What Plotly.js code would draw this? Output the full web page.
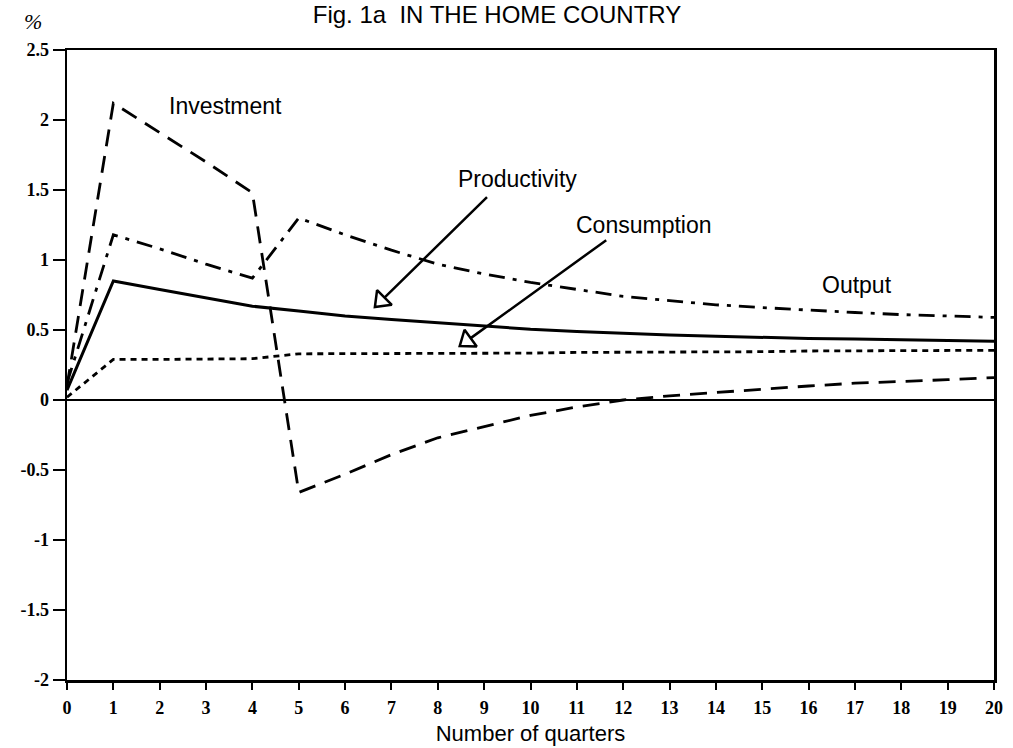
<!DOCTYPE html>
<html>
<head>
<meta charset="utf-8">
<script src="https://cdn.plot.ly/plotly-3.0.1.min.js"></script>
<style>html,body{margin:0;padding:0;background:#fff;}#chart{width:1013px;height:748px;}</style>
</head>
<body>
<div id="chart"></div>
<script>
// ---- data ----
var quarters = [0,1,2,3,4,5,6,7,8,9,10,11,12,13,14,15,16,17,18,19,20];
var investment = [0.10,2.12,1.91,1.70,1.48,-0.66,-0.53,-0.39,-0.27,-0.19,-0.11,-0.05,0.00,0.03,0.055,0.08,0.10,0.12,0.13,0.145,0.16];
var output = [0.12,1.18,1.08,0.97,0.87,1.30,1.18,1.07,0.97,0.90,0.84,0.79,0.74,0.71,0.68,0.66,0.64,0.625,0.61,0.60,0.59];
var productivity = [0.07,0.85,0.79,0.73,0.67,0.635,0.60,0.575,0.55,0.525,0.505,0.49,0.475,0.465,0.455,0.445,0.44,0.435,0.43,0.425,0.42];
var consumption = [0.02,0.29,0.29,0.29,0.295,0.33,0.33,0.33,0.335,0.335,0.335,0.34,0.34,0.34,0.345,0.345,0.35,0.35,0.35,0.355,0.355];
var xTickVals = quarters;
var xTickText = ["0","1","2","3","4","5","6","7","8","9","10","11","12","13","14","15","16","17","18","19","20"];
var yTickVals = [-2,-1.5,-1,-0.5,0,0.5,1,1.5,2,2.5];
var yTickText = ["-2","-1.5","-1","-0.5","0","0.5","1","1.5","2","2.5"];

// arrow heads (hollow triangles) for the label arrows
var arrowHeadX = [6.78, 8.63];
var arrowHeadY = [0.71, 0.423];
var arrowHeadAngle = [225, 234];

var black = '#000';
function line(y, name, dash, w) {
  return {x: quarters, y: y, name: name, type: 'scatter', mode: 'lines',
    line: {color: black, width: w, dash: dash}, showlegend: false, hoverinfo: 'x+y'};
}
var traces = [
  line(investment, 'Investment', '17px,10px', 2.8),
  line(output, 'Output', '16px,8px,4px,8px', 2.8),
  line(productivity, 'Productivity', 'solid', 3),
  line(consumption, 'Consumption', '6px,5px', 2.8),
  {x: arrowHeadX, y: arrowHeadY, type: 'scatter', mode: 'markers', showlegend: false, hoverinfo: 'skip',
   cliponaxis: false,
   marker: {symbol: 'triangle-up-open', size: 18, angle: arrowHeadAngle, color: black, line: {color: black, width: 2.5}}}
];

var labelFont = {family: 'Liberation Sans, Arial, sans-serif', size: 23, color: black};
var tickFont = {family: 'Liberation Serif, Times New Roman, serif', size: 18, color: black, weight: 'bold'};

var layout = {
  width: 1013, height: 748,
  margin: {l: 67, r: 19, t: 50, b: 68},
  paper_bgcolor: '#fff', plot_bgcolor: '#fff',
  title: {text: 'Fig. 1a\u00A0\u00A0IN THE HOME COUNTRY', font: {family: 'Liberation Sans, Arial, sans-serif', size: 24, color: black},
          x: 497/1013, xanchor: 'center', xref: 'container', y: 1 - 15/748, yanchor: 'middle', yref: 'container'},
  xaxis: {range: [0, 20], tickmode: 'array', tickvals: xTickVals, ticktext: xTickText,
          ticks: 'outside', ticklen: 7, tickwidth: 2, tickcolor: black, ticklabelstandoff: 3,
          showline: true, linecolor: black, linewidth: 2.5, mirror: true,
          showgrid: false, zeroline: false, tickfont: tickFont,
          title: {text: 'Number of quarters', font: {family: 'Liberation Sans, Arial, sans-serif', size: 22, color: black}, standoff: 9},
          automargin: false},
  yaxis: {range: [-2, 2.5], tickmode: 'array', tickvals: yTickVals, ticktext: yTickText,
          ticks: 'outside', ticklen: 12, tickwidth: 2, tickcolor: black,
          showline: true, linecolor: black, linewidth: 2.5, mirror: true,
          showgrid: false, zeroline: true, zerolinecolor: black, zerolinewidth: 2.5,
          tickfont: tickFont, automargin: false},
  annotations: [
    {text: '%', xref: 'paper', yref: 'paper', x: (33-67)/927, y: (680-22)/630, xanchor: 'center', yanchor: 'middle', showarrow: false,
     font: {family: 'Liberation Serif, serif', size: 22, color: black, style: 'italic'}},
    {text: 'Investment', x: 3.41, y: 2.10, showarrow: false, font: labelFont},
    {text: 'Productivity', x: 9.73, y: 1.58, showarrow: false, font: labelFont},
    {text: 'Consumption', x: 12.45, y: 1.25, showarrow: false, font: labelFont},
    {text: 'Output', x: 17.04, y: 0.82, showarrow: false, font: labelFont},
    {text: '', x: 6.85, y: 0.731, ax: 104, ay: -102, showarrow: true, arrowhead: 0, arrowwidth: 2.5, arrowcolor: black},
    {text: '', x: 8.71, y: 0.442, ax: 137, ay: -99, showarrow: true, arrowhead: 0, arrowwidth: 2.5, arrowcolor: black}
  ]
};

Plotly.newPlot('chart', traces, layout, {displayModeBar: false, staticPlot: true});
</script>
</body>
</html>
